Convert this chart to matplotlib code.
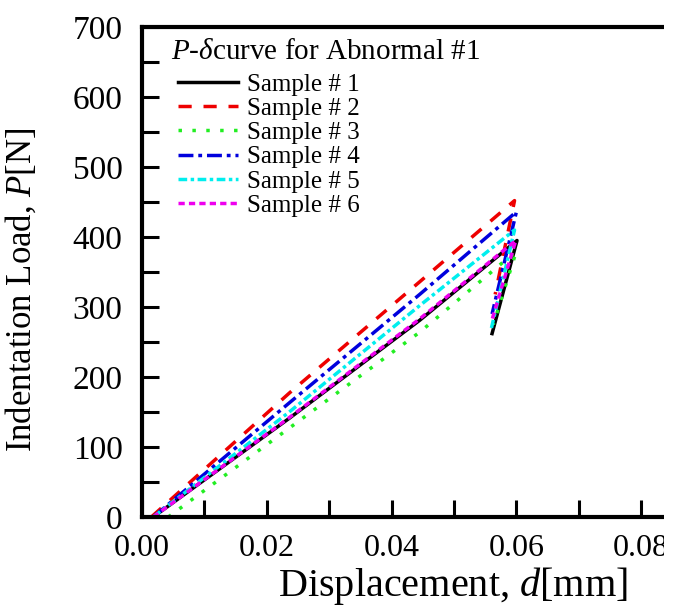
import matplotlib
matplotlib.use('Agg')
import matplotlib.pyplot as plt
from matplotlib.ticker import MultipleLocator, FormatStrFormatter
from matplotlib.patches import Rectangle

plt.rcParams['font.family'] = ['Liberation Serif', 'DejaVu Serif']
plt.rcParams['mathtext.fontset'] = 'custom'
plt.rcParams['mathtext.rm'] = 'Liberation Serif'
plt.rcParams['mathtext.it'] = 'Liberation Serif:italic'

# data: start, two points on the loading line, peak, end of unloading
labels = ['Sample # 1', 'Sample # 2', 'Sample # 3', 'Sample # 4', 'Sample # 5', 'Sample # 6']
s1_x = [0.0018, 0.0236, 0.0445, 0.0601, 0.0561]
s1_y = [0, 141, 281, 395, 262]
s2_x = [0.0015, 0.0236, 0.0445, 0.0597, 0.0566]
s2_y = [0, 177, 336, 452, 318]
s3_x = [0.0042, 0.0236, 0.0445, 0.0600, 0.0563]
s3_y = [0, 127, 264, 380, 275]
s4_x = [0.0018, 0.0236, 0.0445, 0.0600, 0.0561]
s4_y = [0, 163, 318, 436, 290]
s5_x = [0.0018, 0.0236, 0.0445, 0.0597, 0.0560]
s5_y = [0, 150, 302, 410, 270]
s6_x = [0.0018, 0.0236, 0.0445, 0.0599, 0.0561]
s6_y = [0, 142, 283, 395, 282]

colors = ['black', '#ee0000', '#22ee22', '#0000dd', '#00eeee', '#ee00ee']
dashes = [None, (3.8, 3.4), (1, 3), (4.3, 1.4, 1.1, 1.4), (2.5, 1, 1, 1), (1.8, 1.2)]

fig = plt.figure(figsize=(6.73, 6.14), dpi=100)
ax = fig.add_axes([142 / 673, 1 - 517 / 614, 624 / 673, 490 / 614])

xs = [s1_x, s2_x, s3_x, s4_x, s5_x, s6_x]
ys = [s1_y, s2_y, s3_y, s4_y, s5_y, s6_y]
for x, y, c, d, lab in zip(xs, ys, colors, dashes, labels):
    line, = ax.plot(x, y, color=c, lw=2.5, label=lab)
    if d is not None:
        line.set_dashes(d)

ax.set_xlim(0, 0.1)
ax.set_ylim(0, 700)
ax.xaxis.set_major_locator(MultipleLocator(0.02))
ax.xaxis.set_minor_locator(MultipleLocator(0.01))
ax.xaxis.set_major_formatter(FormatStrFormatter('%.2f'))
ax.yaxis.set_major_locator(MultipleLocator(100))
ax.yaxis.set_minor_locator(MultipleLocator(50))
ax.tick_params(which='both', direction='in', length=12, width=2.2,
               top=False, right=False)
ax.tick_params(axis='x', which='major', labelsize=23, pad=12)
ax.tick_params(axis='y', which='major', labelsize=24, pad=14)
for sp in ax.spines.values():
    sp.set_linewidth(3)
ax.spines['right'].set_visible(False)

ax.set_xlabel('Displacement, $\\mathit{d}$[mm]', fontsize=29, labelpad=0)
ax.xaxis.set_label_coords(0.498, -0.097)
ax.set_ylabel('Indentation Load, $P$[N]', fontsize=25)
ax.yaxis.set_label_coords(-0.165, 0.463)

ax.text(0.046, 0.948, '$P$-$\\delta$curve for Abnormal #1', transform=ax.transAxes,
        fontsize=21, va='center', ha='left')
leg = ax.legend(loc='upper left', bbox_to_anchor=(0.0577, 0.906), frameon=False,
                fontsize=18, handlelength=2.4, handletextpad=0.35,
                labelspacing=0.07, borderpad=0, borderaxespad=0)

# the original picture is cut off at the right
fig.patches.append(Rectangle((664 / 673, 0), 1, 1, transform=fig.transFigure,
                             facecolor='white', edgecolor='none', zorder=10))

fig.savefig('out.png', dpi=100)
